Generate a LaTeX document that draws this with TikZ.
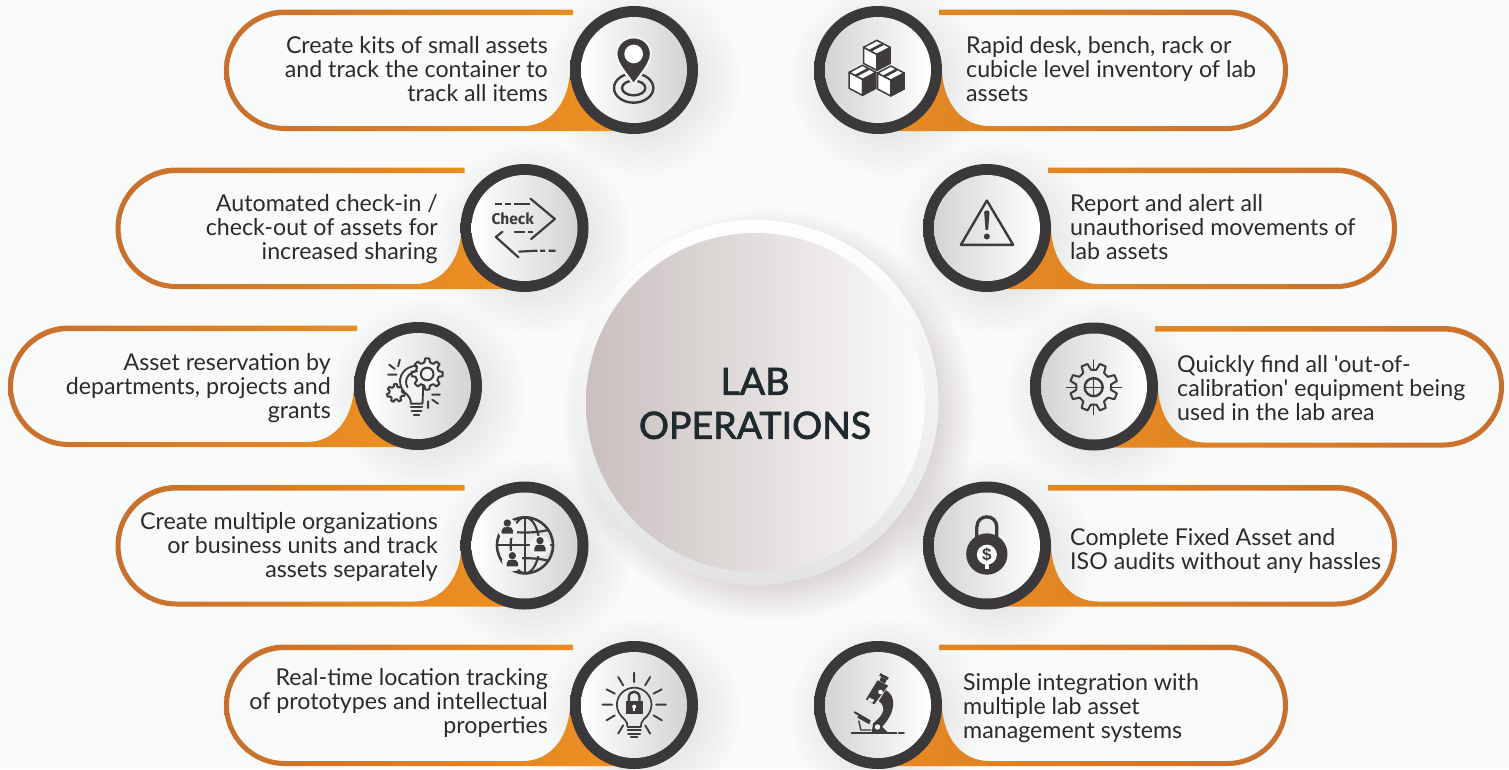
\documentclass[tikz,border=0pt]{standalone}
\usepackage{fontspec}
\usetikzlibrary{fadings}
\newfontfamily\labfont{Lato}
\newfontfamily\ttlfont[FakeBold=2]{Lato}
\newfontfamily\chkfont{Fira Sans}
\newfontfamily\dolfont{Liberation Sans}
\definecolor{bgc}{HTML}{F9FAFA}
\definecolor{dk}{HTML}{3F3B3C}
\definecolor{txtc}{HTML}{2B2A2D}
\definecolor{ttl}{HTML}{1F2A2E}
\definecolor{odark}{HTML}{C76F2E}
\definecolor{obright}{HTML}{F09220}
\definecolor{oright}{HTML}{E88B22}
\definecolor{discg}{HTML}{D4D4D4}
\definecolor{discm}{HTML}{F3F3F3}
\definecolor{paper}{HTML}{F3F3F3}
\definecolor{ringb}{HTML}{E2E3E5}
\definecolor{cleft}{HTML}{C9BFBF}
\definecolor{cmid}{HTML}{E0DBDA}
\definecolor{cright}{HTML}{FCFCFB}
\definecolor{pinksh}{HTML}{A48F8F}
\pgfdeclareradialshading{softsh}{\pgfpointorigin}{color(0bp)=(black!45); color(14bp)=(black!45); color(25bp)=(black!100); color(50bp)=(black!100)}
\pgfdeclarefading{softf}{\pgfuseshading{softsh}}
\pgfdeclareradialshading{softbig}{\pgfpointorigin}{color(0bp)=(black!0); color(19bp)=(black!0); color(25bp)=(black!100); color(50bp)=(black!100)}
\pgfdeclarefading{softg}{\pgfuseshading{softbig}}
\pgfdeclareradialshading{ringsh}{\pgfpointorigin}{rgb(0bp)=(.23,.22,.23); rgb(41bp)=(.23,.22,.23); rgb(46bp)=(.25,.25,.26); rgb(50bp)=(.36,.36,.38)}
\tikzset{
  softshadow/.style={fill=#1,path fading=softf},
  iconat/.style n args={4}{shift={(#1,#2)},scale=0.33333,shift={(-#3,-#4)}},
  ic/.style={draw=dk,line width=#1,line cap=round,line join=round},
  ic/.default=2pt,
  lbl/.style={font=\fontsize{23.2}{24}\selectfont\labfont,text=txtc,inner sep=0pt},
  lblr/.style={lbl,align=right,anchor=east},
  lbll/.style={lbl,align=left,anchor=west},
}
\newcommand{\pillshape}[5]{%
  \begin{scope}[shift={(#1,#2)},xscale=#3]
  \shade[left color=#4,right color=#5]
    (-61,-60.5) -- (-349.25,-60.5)
    .. controls (-382.8,-60.5) and (-410,-33.3) .. (-410,.25)
    .. controls (-410,33.8) and (-382.8,61) .. (-349.25,61)
    -- (-14,61) -- (0,0) -- (-64,2)
    .. controls (-66,35) and (-85,56) .. (-111,56)
    -- (-349.25,56)
    .. controls (-380,56) and (-405,31) .. (-405,.25)
    .. controls (-405,-30.4) and (-380,-55) .. (-349.25,-55)
    -- (-61,-55) -- cycle;
  \end{scope}}
\newcommand{\discL}[2]{%
  \shade[shading=ringsh] (#1,#2) circle[radius=64];
  \shade[left color=white,middle color=discm,right color=discg] (#1,#2) circle[radius=53];}
\newcommand{\discR}[2]{%
  \shade[shading=ringsh] (#1,#2) circle[radius=64];
  \shade[left color=discg,middle color=discm,right color=white] (#1,#2) circle[radius=53];}
\newcommand{\shadowat}[2]{\fill[softshadow=black,fill opacity=.12] (#1+9,#2+9) circle[radius=100];}
\newcommand{\gearline}[6]{%
  \begin{scope}[shift={(#1,#2)}]
  \foreach \ii in {1,...,#5}{%
    \pgfmathsetmacro\angA{#6+360*\ii/#5}%
    \pgfmathsetmacro\angW{360/#5}%
    \draw[ic] (\angA-.30*\angW:#4) -- (\angA-.17*\angW:#3) -- (\angA+.17*\angW:#3) -- (\angA+.30*\angW:#4)
      -- (\angA+.50*\angW:#4-1) -- (\angA+.70*\angW:#4);
  }
  \end{scope}}
\newcommand{\cubeat}[2]{%
  \begin{scope}[shift={(#1,#2)}]
  \filldraw[ic=1.5pt,fill=white] (-40,0)--(0,21)--(0,69)--(-40,48)--cycle;
  \filldraw[ic=1.5pt,fill=dk] (0,21)--(40,0)--(40,48)--(0,69)--cycle;
  \filldraw[ic=1.5pt,fill=white] (0,-21)--(40,0)--(0,21)--(-40,0)--cycle;
  \draw[ic=2.6pt,line cap=butt] (-22,11)--(18,-10);
  \end{scope}}
\newcommand{\personat}[2]{%
  \begin{scope}[shift={(#1,#2)}]
  \fill[paper] (0,8) circle[radius=31];
  \fill[dk] (0,-8) circle[radius=11];
  \fill[dk] (-17,24) -- (-17,14) .. controls (-17,5) and (-8,4) .. (0,4) .. controls (8,4) and (17,5) .. (17,14) -- (17,24) -- cycle;
  \end{scope}}
\begin{document}
\begin{tikzpicture}[x=1pt,y=-1pt]
\useasboundingbox (0,0) rectangle (1509,769);
\fill[bgc] (0,0) rectangle (1509,769);
% soft shadows
\fill[fill=pinksh,path fading=softg,fill opacity=.42] (769,415) circle[radius=205];
\shadowat{634}{70}\shadowat{524}{228}\shadowat{418}{386}\shadowat{524}{545.5}\shadowat{634}{705}
\shadowat{878}{70}\shadowat{987}{228}\shadowat{1094}{386.5}\shadowat{987}{545.5}\shadowat{878}{705}
% ribbons
\pillshape{634}{70}{1}{odark}{obright}
\pillshape{525.5}{228}{1}{odark}{obright}
\pillshape{418}{386}{1}{odark}{obright}
\pillshape{525.5}{545.5}{1}{odark}{obright}
\pillshape{634}{705}{1}{odark}{obright}
\pillshape{878}{70}{-1}{oright}{odark}
\pillshape{987}{228}{-1}{oright}{odark}
\pillshape{1094}{386.5}{-1}{oright}{odark}
\pillshape{987}{545.5}{-1}{oright}{odark}
\pillshape{878}{705}{-1}{oright}{odark}
% discs
\discL{634}{70}\discL{524.5}{228}\discL{418}{386}\discL{524.5}{545.5}\discL{634}{705}
\discR{878}{70}\discR{987}{228}\discR{1094}{386.5}\discR{987}{545.5}\discR{878}{705}
% centre
\shade[top color=white,bottom color=ringb] (756,402.5) circle[radius=182.5];
\shade[left color=cleft,middle color=cmid,right color=cright] (755.5,402.5) circle[radius=169.5];
\node[font=\fontsize{37.5}{44}\selectfont\ttlfont,text=ttl,align=center,inner sep=0pt] (title) at (755,403.5) {LAB\\OPERATIONS};
% labels
\node[lblr] (t1) at (548,69) {Create kits of small assets\\and track the container to\\track all items};
\node[lblr] (t2) at (438,229) {Automated check-in /\\check-out of assets for\\increased sharing};
\node[lblr] (t3) at (331,388) {Asset reservation by\\departments, projects and\\grants};
\node[lblr] (t4) at (438,547) {Create multiple organizations\\or business units and track\\assets separately};
\node[lblr] (t5) at (548,702.5) {Real-time location tracking\\of prototypes and intellectual\\properties};
\node[lbll] (t6) at (966,69) {Rapid desk, bench, rack or\\cubicle level inventory of lab\\assets};
\node[lbll] (t7) at (1070,227.5) {Report and alert all\\unauthorised movements of\\lab assets};
\node[lbll] (t8) at (1177,388) {Quickly find all 'out-of-\\calibration' equipment being\\used in the lab area};
\node[lbll] (t9) at (1070,551) {Complete Fixed Asset and\\ISO audits without any hassles};
\node[lbll] (t10) at (963,708) {Simple integration with\\multiple lab asset\\management systems};
% icon: pin
\begin{scope}[iconat={634}{70}{1243}{208}]
\draw[ic=2.4pt] (1242,262) ellipse[x radius=59,y radius=44];
\draw[ic=2.4pt] (1242,262) ellipse[x radius=35,y radius=22];
\filldraw[fill=dk,draw=paper,line width=2.2pt,line join=round] (1242,252) .. controls (1225,225) and (1190,190) .. (1190,160) .. controls (1190,131) and (1213,110) .. (1242,110) .. controls (1271,110) and (1294,131) .. (1294,160) .. controls (1294,190) and (1259,225) .. (1242,252) -- cycle;
\fill[white] (1242,160) circle[radius=28];
\end{scope}
% icon: boxes
\begin{scope}[iconat={878}{70}{233.5}{208}]
\cubeat{230}{140}\cubeat{187}{215}\cubeat{272}{217}
\end{scope}
% icon: check
\begin{scope}[iconat={524.5}{228}{223}{205}]
\draw[ic=2.2pt,line cap=butt] (133,133)--(155,133) (163,133)--(183,133) (190,133)--(240,133);
\draw[ic=2.2pt] (241,117)--(314,178)--(243,238);
\draw[ic=2.2pt,line cap=butt] (192,217)--(225,217) (232,217)--(247,217);
\draw[ic=2.2pt] (157,216)--(137,232)--(205,293);
\draw[ic=2.2pt,line cap=butt] (205,276)--(262,273) (270,273)--(285,273) (295,273)--(316,273);
\node[font=\fontsize{15.5}{15.5}\selectfont\chkfont\bfseries,text=dk,inner sep=0pt] (chk) at (188,177) {Check};
\end{scope}
% icon: bulb and gears
\begin{scope}[iconat={418}{386}{234.5}{199}]
\gearline{168}{220}{27}{20}{7}{10}
\filldraw[fill=paper,ic=1.9pt] (230,138) .. controls (195,140) and (170,170) .. (185,205) .. controls (195,225) and (213,225) .. (213,252) -- (248,252) -- (250,200) -- cycle;
\fill[paper] (262,163) circle[radius=36];
\draw[ic=1.9pt] (232,154) .. controls (208,156) and (190,180) .. (203,203);
\gearline{262}{163}{47}{36}{8}{0}
\draw[ic=2pt] (262,163) circle[radius=19];
\draw[ic=1.9pt] (213,263)--(247,263) (215,274)--(245,274) (222,285)--(238,285);
\draw[ic=1.9pt] (180,120)--(175,140) (148,135)--(165,148) (145,165)--(170,165);
\draw[ic=1.9pt] (277,225)--(300,225) (277,240)--(295,252) (265,245)--(265,265);
\end{scope}
% icon: globe
\begin{scope}[iconat={524.5}{545.5}{208.5}{196.5}]
\draw[ic=2.6pt] (210,196) circle[radius=84];
\draw[ic=2.2pt] (210,112) -- (210,280);
\draw[ic=2.2pt] (210,196) ellipse[x radius=43,y radius=84];
\draw[ic=2.2pt] (126,196) -- (294,196);
\draw[ic=2.2pt] (140,150) .. controls (180,160) and (240,160) .. (280,150);
\draw[ic=2.2pt] (140,242) .. controls (180,232) and (240,232) .. (280,242);
\personat{157}{137}\personat{255}{190}\personat{172}{235}
\end{scope}
% icon: bulb with lock
\begin{scope}[iconat={634}{705}{207.5}{194}]
\draw[ic=1.7pt] (180,238) .. controls (165,225) and (156,210) .. (156,193) .. controls (156,165) and (180,142) .. (208,142) .. controls (236,142) and (260,165) .. (260,193) .. controls (260,210) and (251,225) .. (236,238) .. controls (230,245) and (228,250) .. (228,260) -- (188,260) .. controls (188,250) and (186,245) .. (180,238) -- cycle;
\draw[ic=1.7pt] (188,270)--(228,270) (190,280)--(226,280) (198,290)--(218,290);
\draw[ic=2.4pt] (192,185) -- (192,172) .. controls (192,148) and (224,148) .. (224,172) -- (224,185);
\fill[dk] (183,183) rectangle (235,222);
\fill[white] (208,199) circle[radius=6];
\fill[white] (205,199) rectangle (211,212);
\draw[ic=1.9pt] (208,97)--(208,125) (160,110)--(175,135) (125,147)--(150,160) (113,193)--(142,193) (125,240)--(150,225) (160,280)--(175,255);
\draw[ic=1.9pt] (256,110)--(241,135) (291,147)--(266,160) (303,193)--(274,193) (291,240)--(266,225) (256,280)--(241,255);
\end{scope}
% icon: warning
\begin{scope}[iconat={987}{228}{216.5}{204.5}]
\draw[ic=2.4pt] (216,122) -- (295,255) -- (138,255) -- cycle;
\fill[dk] (208,157) .. controls (208,150) and (224,150) .. (224,157) -- (220,210) -- (212,210) -- cycle;
\fill[dk] (216,230) circle[radius=9];
\end{scope}
% icon: gear crosshair
\begin{scope}[iconat={1094}{386.5}{221}{200}]
\gearline{220}{202}{72}{53}{8}{22.5}
\draw[ic=2.4pt] (220,202) circle[radius=27];
\draw[ic=.8pt] (220,120)--(220,150) (220,254)--(220,285) (138,202)--(166,202) (274,202)--(305,202);
\draw[ic=.9pt] (220,175)--(220,229) (193,202)--(247,202);
\end{scope}
% icon: lock with dollar
\begin{scope}[iconat={987}{545.5}{216.5}{196.5}]
\draw[draw=dk,line width=3.3pt] (186,190) -- (186,142) .. controls (186,100) and (246,100) .. (246,142) -- (246,190);
\fill[dk] (216,222) circle[radius=62];
\fill[white] (216,224) circle[radius=30];
\fill[white] (210,245) rectangle (222,268);
\node[font=\fontsize{17}{17}\selectfont\dolfont\bfseries,text=dk,inner sep=0pt] (dol) at (216,224) {\$};
\end{scope}
% icon: microscope
\begin{scope}[iconat={878}{705}{219.5}{210}]
\draw[ic=1.9pt] (140,295)--(275,295);
\draw[ic=1.9pt] (282,295)--(297,295);
\draw[dk,line width=2.6pt] (225,118)--(250,131);
\fill[dk] (229,125)--(246,134)--(240,146)--(224,137)--cycle;
\fill[dk] (218,136)--(250,152)--(208,208)--(183,193)--cycle;
\fill[dk] (243,165) .. controls (278,185) and (270,235) .. (232,275) -- (252,295) -- (200,295) -- (205,265) .. controls (230,245) and (250,220) .. (222,198) -- cycle;
\fill[white] (227,171) circle[radius=7];
\fill[white] (218,276) circle[radius=8];
\fill[white] (193,188)--(208,195)--(202,203)--(188,196)--cycle;
\draw[ic=2pt] (150,232)--(195,258) (160,246)--(193,264);
\draw[ic=1.4pt] (162,258)--(168,285)--(198,285);
\end{scope}
\end{tikzpicture}
\end{document}
